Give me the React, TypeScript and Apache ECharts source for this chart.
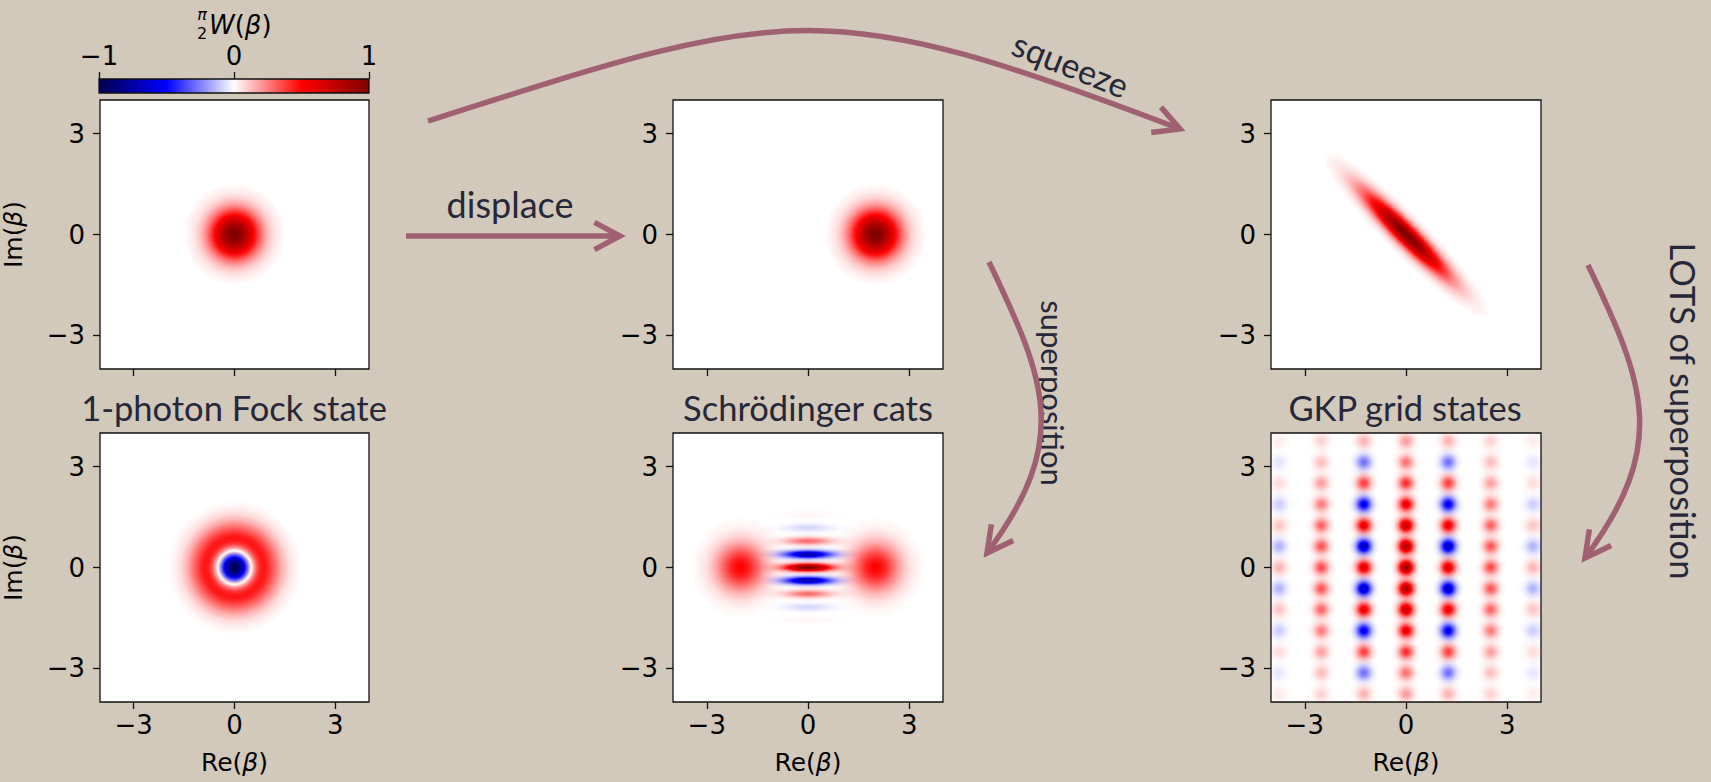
import React, { useEffect, useRef } from "react";
import * as echarts from "echarts";

// ---------------- data ----------------
const AXIS_TICKS = [-3, 0, 3];
const CBAR_MIN = -1;
const CBAR_MAX = 1;

// blob rows: [Re, Im, peak value of (pi/2)W, sigma along axis, sigma across axis, axis angle (deg), kind]
const vacuumBlobs = [[0, 0, 1.0, 0.5, 0.5, 0, 0]];
const coherentBlobs = [[2, 0, 1.0, 0.5, 0.5, 0, 0]];
const squeezedBlobs = [[0, 0, 1.0, 1.15, 0.2, -45, 0]];
const fockBlobs = [[0, 0, 1.0, 0, 0, 0, 1]];

// radial profile of the 1-photon Fock state: radius |beta| and (pi/2)W
const fockRadius = [0, 0.1, 0.2, 0.3, 0.4, 0.5, 0.6, 0.7, 0.8, 0.9, 1.0, 1.2, 1.4, 1.6, 1.8, 2.0];
const fockValue = [-1, -0.94, -0.78, -0.54, -0.26, 0, 0.23, 0.38, 0.45, 0.46, 0.42, 0.29, 0.16, 0.07, 0.025, 0];

// Schrodinger cat: two coherent lobes and interference fringes on the Im axis
const catLobes = [
  [-2, 0, 0.5, 0.5, 0.5, 0, 0],
  [2, 0, 0.5, 0.5, 0.5, 0, 0],
];
const catFringeIm = [1.57, 1.18, 0.785, 0.39, 0, -0.39, -0.785, -1.18, -1.57];
const catFringeValue = [0.02, -0.08, 0.29, -0.74, 1.0, -0.74, 0.29, -0.08, 0.02];

// GKP grid
const gkpRe = [-3.76, -2.51, -1.25, 0, 1.25, 2.51, 3.76];
const gkpIm = [3.76, 3.13, 2.51, 1.88, 1.25, 0.63, 0, -0.63, -1.25, -1.88, -2.51, -3.13, -3.76];
const gkpValue = [
  [0.04, 0.09, 0.15, 0.2, 0.15, 0.09, 0.04],
  [-0.05, 0.13, -0.28, 0.28, -0.28, 0.13, -0.05],
  [0.07, 0.19, 0.38, 0.42, 0.38, 0.19, 0.07],
  [-0.1, 0.26, -0.55, 0.58, -0.55, 0.26, -0.1],
  [0.12, 0.31, 0.58, 0.72, 0.58, 0.31, 0.12],
  [-0.15, 0.34, -0.68, 0.82, -0.68, 0.34, -0.15],
  [0.15, 0.36, 0.62, 0.9, 0.62, 0.36, 0.15],
  [-0.15, 0.34, -0.68, 0.82, -0.68, 0.34, -0.15],
  [0.12, 0.31, 0.58, 0.72, 0.58, 0.31, 0.12],
  [-0.1, 0.26, -0.55, 0.58, -0.55, 0.26, -0.1],
  [0.07, 0.19, 0.38, 0.42, 0.38, 0.19, 0.07],
  [-0.05, 0.13, -0.28, 0.28, -0.28, 0.13, -0.05],
  [0.04, 0.09, 0.15, 0.2, 0.15, 0.09, 0.04],
];

const panelTitles = ["1-photon Fock state", "Schrödinger cats", "GKP grid states"];
const arrowLabels = ["displace", "squeeze", "superposition", "LOTS of superposition"];

// ---------------- styles ----------------
const BG = "#d3c9ba";
const ARROW = "#9f6171";
const INK = "#27273a";
const TICK_FONT = "DejaVu Sans";
const TITLE_FONT = "Lato";
const TICK_SIZE = 26;
const NAME_SIZE = 25;

const catFringeBlobs = catFringeIm.map((im, i) => [0, im, catFringeValue[i], 0.5, 0.08, 0, 0]);
const catBlobs = [...catLobes, ...catFringeBlobs];
const gkpBlobs: number[][] = [];
gkpIm.forEach((im, r) =>
  gkpRe.forEach((re, c) => gkpBlobs.push([re, im, gkpValue[r][c], 0.155, 0.155, 0, 0]))
);

// seismic colormap, expressed as colour over white
function seis(v: number): string {
  v = Math.max(-1, Math.min(1, v));
  if (v >= 0) {
    if (v <= 0.5) return `rgba(255,0,0,${(2 * v).toFixed(3)})`;
    const r = Math.round(255 * (1 - (v - 0.5)));
    return `rgb(${r},0,0)`;
  }
  const a = -v;
  if (a <= 0.5) return `rgba(0,0,255,${(2 * a).toFixed(3)})`;
  const b = Math.round(255 * (1 - 1.4 * (a - 0.5)));
  return `rgb(0,0,${b})`;
}

const BASE = 40;
function gaussStops(peak: number) {
  const s: any[] = [];
  const n = 24;
  for (let i = 0; i <= n; i++) {
    const t = i / n;
    s.push({ offset: t, color: seis(peak * Math.exp(-4.5 * t * t)) });
  }
  s[n].color = peak >= 0 ? "rgba(255,0,0,0)" : "rgba(0,0,255,0)";
  return s;
}

function renderBlob(params: any, api: any) {
  const kind = api.value(6);
  const c = api.coord([api.value(0), api.value(1)]);
  const u = api.size([1, 1]) as number[];
  const peak = api.value(2) as number;
  let rx: number, ry: number, stops: any[];
  if (kind === 1) {
    const R = fockRadius[fockRadius.length - 1];
    rx = R * u[0];
    ry = R * u[1];
    stops = fockRadius.map((r, i) => ({ offset: r / R, color: seis(peak * fockValue[i]) }));
  } else {
    rx = 3 * api.value(3) * u[0];
    ry = 3 * api.value(4) * u[1];
    stops = gaussStops(peak);
  }
  return {
    type: "circle",
    x: c[0],
    y: c[1],
    rotation: (api.value(5) * Math.PI) / 180,
    scaleX: rx / BASE,
    scaleY: ry / BASE,
    shape: { cx: 0, cy: 0, r: BASE },
    style: { fill: { type: "radial", x: 0.5, y: 0.5, r: 0.5, colorStops: stops, global: false } },
    silent: true,
  };
}

const minus = (v: number) => String(v).replace("-", "\u2212");
const tickRich = { t: { fontSize: TICK_SIZE, fontFamily: TICK_FONT, color: "#000" } };
const tickFmt = (v: number) => `{t|${minus(v)}}`;

const colLeft = [99, 673, 1271];
const rowTop = [100, 433];
const PW = 270;
const PH = 269;

function chevron(tip: number[], dir: number[], L = 29, angDeg = 28) {
  const a = (angDeg * Math.PI) / 180;
  const n = Math.hypot(dir[0], dir[1]);
  const dx = -dir[0] / n;
  const dy = -dir[1] / n;
  const r1 = [dx * Math.cos(a) - dy * Math.sin(a), dx * Math.sin(a) + dy * Math.cos(a)];
  const r2 = [dx * Math.cos(a) + dy * Math.sin(a), -dx * Math.sin(a) + dy * Math.cos(a)];
  return [
    [tip[0] + L * r1[0], tip[1] + L * r1[1]],
    tip,
    [tip[0] + L * r2[0], tip[1] + L * r2[1]],
  ];
}

function buildOption(): any {
  const grids: any[] = [];
  const xAxes: any[] = [];
  const yAxes: any[] = [];
  const series: any[] = [];
  const panelData = [vacuumBlobs, coherentBlobs, squeezedBlobs, fockBlobs, catBlobs, gkpBlobs];
  const richName = {
    n: { fontSize: NAME_SIZE, fontFamily: TICK_FONT, color: "#000" },
    i: { fontSize: NAME_SIZE, fontFamily: TICK_FONT, fontStyle: "italic", color: "#000" },
  };
  const tickStyle = { show: true, length: 7, customValues: AXIS_TICKS, lineStyle: { color: "#111", width: 1.3 } };
  for (let i = 0; i < 6; i++) {
    const row = i < 3 ? 0 : 1;
    const col = i % 3;
    grids.push({
      left: colLeft[col],
      top: rowTop[row],
      width: PW,
      height: PH,
      show: true,
      backgroundColor: "#ffffff",
      borderColor: "#111",
      borderWidth: 1.3,
      containLabel: false,
    });
    xAxes.push({
      type: "value",
      gridIndex: i,
      position: "bottom",
      min: -4,
      max: 4,
      axisLine: { show: false, onZero: false },
      splitLine: { show: false },
      axisTick: tickStyle,
      axisLabel: {
        show: row === 1,
        customValues: AXIS_TICKS,
        fontSize: TICK_SIZE,
        fontFamily: TICK_FONT,
        color: "#000",
        margin: 10,
        formatter: tickFmt,
        rich: tickRich,
      },
      name: row === 1 ? "{n|Re(}{i|β}{n|)}" : "",
      nameLocation: "middle",
      nameGap: 48,
      nameTextStyle: { rich: richName },
    });
    yAxes.push({
      type: "value",
      gridIndex: i,
      position: "left",
      min: -4,
      max: 4,
      axisLine: { show: false, onZero: false },
      splitLine: { show: false },
      axisTick: tickStyle,
      axisLabel: {
        show: true,
        customValues: AXIS_TICKS,
        fontSize: TICK_SIZE,
        fontFamily: TICK_FONT,
        color: "#000",
        margin: 15,
        formatter: tickFmt,
        rich: tickRich,
      },
      name: col === 0 ? "{n|Im(}{i|β}{n|)}" : "",
      nameLocation: "middle",
      nameRotate: 90,
      nameGap: 74,
      nameTextStyle: { rich: richName },
    });
    series.push({
      type: "custom",
      coordinateSystem: "cartesian2d",
      xAxisIndex: i,
      yAxisIndex: i,
      clip: true,
      silent: true,
      renderItem: renderBlob,
      encode: { x: 0, y: 1 },
      data: panelData[i],
    });
  }
  // colour bar
  grids.push({
    left: colLeft[0],
    top: 79,
    width: PW,
    height: 14,
    show: true,
    borderColor: "#111",
    borderWidth: 1.3,
    backgroundColor: new echarts.graphic.LinearGradient(0, 0, 1, 0, [
      { offset: 0, color: "rgb(0,0,77)" },
      { offset: 0.25, color: "rgb(0,0,255)" },
      { offset: 0.5, color: "rgb(255,255,255)" },
      { offset: 0.75, color: "rgb(255,0,0)" },
      { offset: 1, color: "rgb(128,0,0)" },
    ]),
  });
  xAxes.push({
    type: "value",
    gridIndex: 6,
    position: "top",
    min: CBAR_MIN,
    max: CBAR_MAX,
    interval: 1,
    axisLine: { show: false, onZero: false },
    splitLine: { show: false },
    axisTick: { show: true, length: 7, lineStyle: { color: "#111", width: 1.3 } },
    axisLabel: {
      fontSize: TICK_SIZE,
      fontFamily: TICK_FONT,
      color: "#000",
      margin: 10,
      formatter: tickFmt,
      rich: tickRich,
    },
  });
  yAxes.push({ type: "value", gridIndex: 6, show: false, min: 0, max: 1 });

  const textStyle = (t: string, size: number) => ({
    text: t,
    fontSize: size,
    fontFamily: TITLE_FONT,
    fill: INK,
    align: "center",
    verticalAlign: "middle",
  });

  // arrows
  const sq = { x1: 428, y1: 121, cpx1: 788, cpy1: 6, cpx2: 821, cpy2: -8, x2: 1180, y2: 129 };
  const sp = { x1: 989, y1: 262, cpx1: 1046, cpy1: 381, cpx2: 1071, cpy2: 440, x2: 987, y2: 553 };
  const lo = { x1: 1588, y1: 265, cpx1: 1645, cpy1: 384, cpx2: 1669, cpy2: 445, x2: 1585, y2: 558 };
  const arrowStyle = { stroke: ARROW, lineWidth: 5.5, fill: null, lineJoin: "miter" };

  const graphics: any[] = [
    { type: "text", x: 234, y: 407, style: textStyle(panelTitles[0], 34.5) },
    { type: "text", x: 808, y: 407, style: textStyle(panelTitles[1], 34.5) },
    { type: "text", x: 1405, y: 407, style: textStyle(panelTitles[2], 34.5) },
    { type: "text", x: 510, y: 204, style: textStyle(arrowLabels[0], 36) },
    { type: "text", x: 1071, y: 64, rotation: -0.38, style: textStyle(arrowLabels[1], 34) },
    { type: "text", x: 1053, y: 393, rotation: -Math.PI / 2, style: textStyle(arrowLabels[2], 31) },
    { type: "text", x: 1683, y: 411, rotation: -Math.PI / 2, style: textStyle(arrowLabels[3], 34.5) },
    // displace
    { type: "line", shape: { x1: 406, y1: 236, x2: 618, y2: 236 }, style: arrowStyle },
    { type: "polyline", shape: { points: chevron([620, 236], [1, 0]) }, style: arrowStyle },
    // squeeze
    { type: "bezierCurve", shape: sq, style: arrowStyle },
    { type: "polyline", shape: { points: chevron([sq.x2, sq.y2], [sq.x2 - sq.cpx2, sq.y2 - sq.cpy2]) }, style: arrowStyle },
    // superposition
    { type: "bezierCurve", shape: sp, style: arrowStyle },
    { type: "polyline", shape: { points: chevron([sp.x2, sp.y2], [sp.x2 - sp.cpx2, sp.y2 - sp.cpy2]) }, style: arrowStyle },
    // LOTS of superposition
    { type: "bezierCurve", shape: lo, style: arrowStyle },
    { type: "polyline", shape: { points: chevron([lo.x2, lo.y2], [lo.x2 - lo.cpx2, lo.y2 - lo.cpy2]) }, style: arrowStyle },
    // colour bar label  (pi/2) W(beta)
    { type: "text", x: 202, y: 14, style: { text: "π", fontSize: 16, fontFamily: TICK_FONT, fontStyle: "italic", fill: "#000", align: "center", verticalAlign: "middle" } },
    { type: "text", x: 202, y: 33, style: { text: "2", fontSize: 16, fontFamily: TICK_FONT, fill: "#000", align: "center", verticalAlign: "middle" } },
    {
      type: "text",
      x: 209,
      y: 25,
      style: {
        text: "{i|W}{n|(}{i|β}{n|)}",
        align: "left",
        verticalAlign: "middle",
        rich: {
          n: { fontSize: 26, fontFamily: TICK_FONT, fill: "#000" },
          i: { fontSize: 26, fontFamily: TICK_FONT, fontStyle: "italic", fill: "#000" },
        },
      },
    },
  ];

  return {
    animation: false,
    backgroundColor: BG,
    grid: grids,
    xAxis: xAxes,
    yAxis: yAxes,
    series,
    graphic: { elements: graphics },
  };
}

export default function App() {
  const ref = useRef<HTMLDivElement>(null);
  useEffect(() => {
    const chart = echarts.init(ref.current as HTMLDivElement, null, { renderer: "svg" });
    chart.setOption(buildOption());
    return () => chart.dispose();
  }, []);
  return (
    <div
      ref={ref}
      style={{ position: "fixed", left: 0, top: 0, width: 1711, height: 782, background: BG }}
    />
  );
}
